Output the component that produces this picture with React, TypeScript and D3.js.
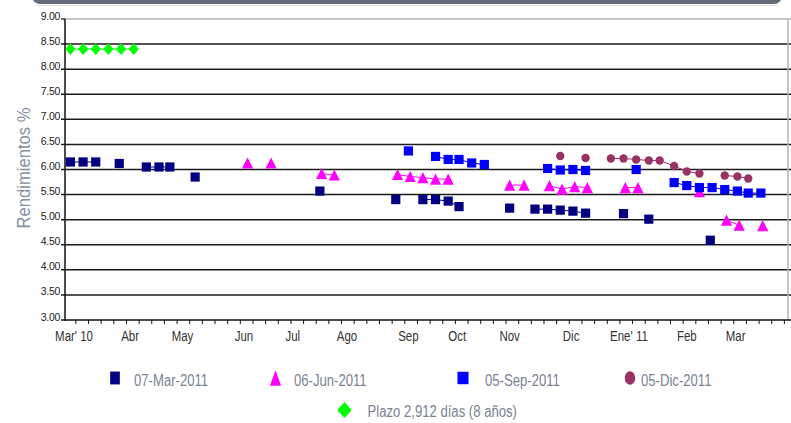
import * as d3 from 'd3';

const W = 791;
const H = 423;

// Eje Y (rendimientos %)
const yTicks = [3, 3.5, 4, 4.5, 5, 5.5, 6, 6.5, 7, 7.5, 8, 8.5, 9];

// Etiquetas de meses del eje X
const monthLabels = ["Mar' 10", 'Abr', 'May', 'Jun', 'Jul', 'Ago', 'Sep', 'Oct', 'Nov', 'Dic', "Ene' 11", 'Feb', 'Mar'];
const monthLabelDates = [
  '2010-03-06', '2010-04-06', '2010-05-05', '2010-06-08', '2010-07-05', '2010-08-04', '2010-09-07',
  '2010-10-04', '2010-11-02', '2010-12-06', '2011-01-07', '2011-02-08', '2011-03-07',
];

// null = hueco (la línea se corta)
const mar07Dates = [
  '2010-03-04', '2010-03-11', '2010-03-18', null, '2010-03-31', null, '2010-04-15', '2010-04-22', '2010-04-28', null,
  '2010-05-12', null, '2010-07-20', null, '2010-08-31', null, '2010-09-15', '2010-09-22', '2010-09-29', '2010-10-05', null,
  '2010-11-02', null, '2010-11-16', '2010-11-23', '2010-11-30', '2010-12-07', '2010-12-14', null,
  '2011-01-04', null, '2011-01-18', null, '2011-02-21',
];
const mar07Values = [
  6.15, 6.15, 6.15, null, 6.12, null, 6.05, 6.05, 6.05, null,
  5.85, null, 5.57, null, 5.40, null, 5.40, 5.40, 5.37, 5.26, null,
  5.23, null, 5.21, 5.21, 5.19, 5.17, 5.13, null,
  5.12, null, 5.01, null, 4.59,
];

const jun06Dates = [
  '2010-06-10', null, '2010-06-23', null, '2010-07-21', '2010-07-28', null,
  '2010-09-01', '2010-09-08', '2010-09-15', '2010-09-22', '2010-09-29', null,
  '2010-11-02', '2010-11-10', null, '2010-11-24', '2010-12-01', '2010-12-08', '2010-12-15', null,
  '2011-01-05', '2011-01-12', null, '2011-02-15', null, '2011-03-02', '2011-03-09', null, '2011-03-22',
];
const jun06Values = [
  6.13, null, 6.13, null, 5.92, 5.89, null,
  5.90, 5.86, 5.84, 5.81, 5.81, null,
  5.69, 5.69, null, 5.68, 5.61, 5.66, 5.64, null,
  5.64, 5.64, null, 5.56, null, 4.99, 4.89, null, 4.88,
];

const sep05Dates = [
  '2010-09-07', null, '2010-09-22', '2010-09-29', '2010-10-05', '2010-10-12', '2010-10-19', null,
  '2010-11-23', '2010-11-30', '2010-12-07', '2010-12-14', null, '2011-01-11', null,
  '2011-02-01', '2011-02-08', '2011-02-15', '2011-02-22', '2011-03-01', '2011-03-08', '2011-03-14', '2011-03-21',
];
const sep05Values = [
  6.37, null, 6.26, 6.20, 6.20, 6.13, 6.10, null,
  6.02, 5.99, 6.00, 5.98, null, 6.00, null,
  5.74, 5.68, 5.64, 5.64, 5.60, 5.57, 5.53, 5.53,
];

const dic05Dates = [
  '2010-11-30', null, '2010-12-14', null,
  '2010-12-28', '2011-01-04', '2011-01-11', '2011-01-18', '2011-01-24', '2011-02-01', '2011-02-08', '2011-02-15', null,
  '2011-03-01', '2011-03-08', '2011-03-14',
];
const dic05Values = [
  6.27, null, 6.23, null,
  6.22, 6.22, 6.20, 6.18, 6.18, 6.07, 5.96, 5.92, null,
  5.88, 5.86, 5.82,
];

const plazoDates = ['2010-03-04', '2010-03-11', '2010-03-18', '2010-03-25', '2010-04-01', '2010-04-08'];
const plazoValues = [8.4, 8.4, 8.4, 8.4, 8.4, 8.4];

const parse = d3.timeParse('%Y-%m-%d');

type Shape = 'square' | 'triangle' | 'circle' | 'diamond';
type Pt = { date: Date | null; v: number | null };

const series = [
  { name: '07-Mar-2011', dates: mar07Dates, values: mar07Values, color: '#000080', shape: 'square' as Shape },
  { name: '06-Jun-2011', dates: jun06Dates, values: jun06Values, color: '#ff00ff', shape: 'triangle' as Shape },
  { name: '05-Sep-2011', dates: sep05Dates, values: sep05Values, color: '#0000ff', shape: 'square' as Shape },
  { name: '05-Dic-2011', dates: dic05Dates, values: dic05Values, color: '#993366', shape: 'circle' as Shape },
  { name: 'Plazo 2,912 días (8 años)', dates: plazoDates, values: plazoValues, color: '#00ff00', shape: 'diamond' as Shape },
];

const FONT = 'Liberation Sans, Arial, sans-serif';

function Marker({ shape, x, y, color, sx = 1, sy = 1 }: { shape: Shape; x: number; y: number; color: string; sx?: number; sy?: number }) {
  const t = `translate(${x},${y}) scale(${sx},${sy})`;
  if (shape === 'square') return <rect transform={t} x={-4.6} y={-4.6} width={9.2} height={9.2} fill={color} />;
  if (shape === 'triangle') return <path transform={t} d="M0,-5.6L5.6,5.6L-5.6,5.6Z" fill={color} />;
  if (shape === 'circle') return <circle transform={t} r={4.2} fill={color} />;
  return <path transform={t} d="M0,-5.8L5.2,0L0,5.8L-5.2,0Z" fill={color} />;
}

function NText({ x, y, size, fill, anchor = 'start', children }: any) {
  return (
    <text transform={`translate(${x},${y}) scale(0.82,1)`} fontSize={size} fill={fill} textAnchor={anchor} fontFamily={FONT}>
      {children}
    </text>
  );
}

export default function App() {
  const left = 65;
  const right = 788;
  const top = 19;
  const bottom = 320;

  const x = d3.scaleTime().domain([parse('2010-03-01')!, parse('2011-04-05')!]).range([left, right]);
  const y = d3.scaleLinear().domain([3, 9]).range([bottom, top]);

  const weekTicks = d3.timeSunday.range(parse('2010-03-02')!, parse('2011-04-05')!);

  const line = d3
    .line<Pt>()
    .defined((d) => d.v !== null && d.date !== null)
    .x((d) => x(d.date as Date))
    .y((d) => y(d.v as number));

  const legendRow1 = [
    { mx: 115, tx: 134, sx: 1.05, sy: 1.4 },
    { mx: 275.5, tx: 294, sx: 1.0, sy: 1.4 },
    { mx: 463, tx: 485, sx: 1.2, sy: 1.35 },
    { mx: 630, tx: 641, sx: 1.25, sy: 1.6 },
  ];

  return (
    <div style={{ position: 'fixed', left: 0, top: 0 }}>
      <svg width={W} height={H} style={{ display: 'block', background: '#fff' }}>
        {/* barra superior */}
        <rect x={32} y={-12} width={750} height={16} rx={8} fill="#646c7a" />
        <line x1={36} x2={778} y1={5.5} y2={5.5} stroke="#e2e2e2" strokeWidth={1} />

        {/* rejilla */}
        {yTicks.filter((t) => t > 3 && t < 9).map((t) => (
          <line key={t} x1={61} x2={W} y1={y(t)} y2={y(t)} stroke="#1c1c1c" strokeWidth={1.5} />
        ))}
        <line x1={left} x2={W} y1={top} y2={top} stroke="#b4b4b4" strokeWidth={1.3} />
        <line x1={61} x2={left} y1={top} y2={top} stroke="#1c1c1c" strokeWidth={1.3} />
        <line x1={right} x2={right} y1={top} y2={bottom} stroke="#b4b4b4" strokeWidth={1.5} />

        {/* ejes */}
        <line x1={left} x2={left} y1={top} y2={bottom + 1} stroke="#111" strokeWidth={1.5} />
        <line x1={61} x2={W} y1={bottom} y2={bottom} stroke="#111" strokeWidth={1.5} />
        {weekTicks.map((d, i) => (
          <line key={i} x1={x(d)} x2={x(d)} y1={bottom} y2={bottom + 4} stroke="#111" strokeWidth={1} />
        ))}

        {yTicks.map((t) => (
          <text key={t} x={60} y={y(t) + 0.5} fontSize={10.5} letterSpacing={-0.3} textAnchor="end" fill="#222" fontFamily={FONT}>
            {t.toFixed(2)}
          </text>
        ))}

        {monthLabels.map((m, i) => (
          <NText key={m} x={x(parse(monthLabelDates[i])!)} y={341} size={14} fill="#333" anchor="middle">
            {m}
          </NText>
        ))}

        <text
          transform="translate(30,168) rotate(-90)"
          fontSize={19}
          fill="#8590a2"
          textAnchor="middle"
          fontFamily={FONT}
          textLength={121}
          lengthAdjust="spacingAndGlyphs"
        >
          Rendimientos %
        </text>

        {/* series */}
        {series.map((s) => {
          const pts: Pt[] = s.dates.map((d, i) => ({ date: d ? parse(d) : null, v: s.values[i] }));
          return (
            <g key={s.name}>
              <path d={line(pts) || ''} fill="none" stroke={s.color} strokeWidth={1} />
              {pts
                .filter((p) => p.v !== null && p.date !== null)
                .map((p, i) => (
                  <Marker key={i} shape={s.shape} x={x(p.date as Date)} y={y(p.v as number)} color={s.color} />
                ))}
            </g>
          );
        })}

        {/* leyenda */}
        {series.slice(0, 4).map((s, i) => (
          <g key={s.name}>
            <Marker shape={s.shape} x={legendRow1[i].mx} y={378} color={s.color} sx={legendRow1[i].sx} sy={legendRow1[i].sy} />
            <NText x={legendRow1[i].tx} y={386} size={16} fill="#7b8391">
              {s.name}
            </NText>
          </g>
        ))}
        <Marker shape={series[4].shape} x={344.5} y={410} color={series[4].color} sx={1.4} sy={1.4} />
        <NText x={367.5} y={417} size={16} fill="#7b8391">
          {series[4].name}
        </NText>
      </svg>
    </div>
  );
}
